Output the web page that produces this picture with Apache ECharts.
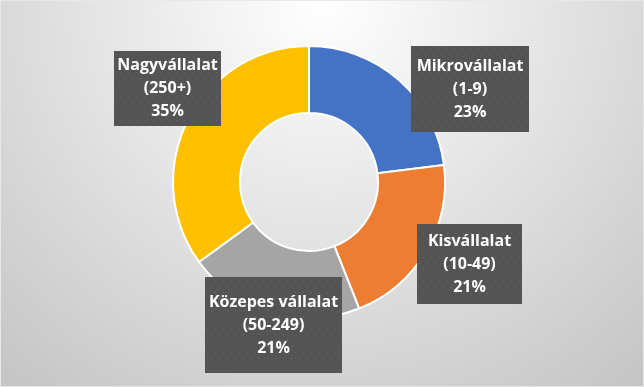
<!DOCTYPE html>
<html>
<head>
<meta charset="utf-8">
<script src="https://cdn.jsdelivr.net/npm/echarts@6.0.0/dist/echarts.min.js"></script>
<style>
html,body{margin:0;padding:0;background:#fff;}
#chart{width:644px;height:387px;}
</style>
</head>
<body>
<div id="chart"></div>
<script>
// ---- data ----
const categories = ['Mikrovállalat', 'Kisvállalat', 'Közepes vállalat', 'Nagyvállalat'];
const sizeBands  = ['(1-9)', '(10-49)', '(50-249)', '(250+)'];
const shares     = [23, 21, 21, 35];

// ---- styling ----
const sliceColors = ['#4472C4', '#ED7D31', '#A5A5A5', '#FFC000'];
// label boxes: centre x, centre y, width, height (px)
const labelBoxes = [
  [470, 89, 118, 86],
  [469.5, 264, 105, 80],
  [273.5, 325, 137, 96],
  [167.5, 88.5, 107, 75]
];
const LINE_H = 23;

function dottedCanvas(w, h) {
  const c = document.createElement('canvas');
  c.width = Math.round(w); c.height = Math.round(h);
  const g = c.getContext('2d');
  g.fillStyle = '#545454';
  g.fillRect(0, 0, c.width, c.height);
  g.fillStyle = '#6c6c6c';
  let row = 0;
  for (let y = 3; y < c.height; y += 6, row++) {
    for (let x = (row % 2 ? 6 : 2); x < c.width; x += 8) {
      g.fillRect(x, y, 1, 1);
    }
  }
  return c;
}

const seriesData = categories.map((name, i) => {
  const b = labelBoxes[i];
  const padV = Math.max(0, (b[3] - 3 * LINE_H) / 2);
  return {
    name: name,
    value: shares[i],
    itemStyle: { color: sliceColors[i] },
    label: {
      width: b[2],
      padding: [padV + 1, 0, padV - 1, 0],
      backgroundColor: { image: dottedCanvas(b[2], b[3]) }
    }
  };
});

const chart = echarts.init(document.getElementById('chart'), null, { renderer: 'canvas' });
chart.setOption({
  animation: false,
  backgroundColor: {
    type: 'radial', x: 0.5, y: 0, r: 1.3,
    colorStops: [
      { offset: 0, color: '#ffffff' },
      { offset: 1, color: '#c4c4c4' }
    ]
  },
  graphic: [{
    type: 'rect', silent: true,
    shape: { x: 0.5, y: 0.5, width: 643, height: 386 },
    style: { fill: null, stroke: '#e8e8e8', lineWidth: 1 }
  }],
  series: [{
    type: 'pie',
    center: [309, 182],
    radius: [69, 136],
    startAngle: 90,
    clockwise: true,
    silent: true,
    itemStyle: { borderColor: '#ffffff', borderWidth: 2 },
    label: {
      show: true,
      position: 'inside',
      overflow: 'none',
      color: '#ffffff',
      fontFamily: 'Open Sans',
      fontWeight: 'bold',
      fontSize: 16,
      lineHeight: LINE_H,
      align: 'center',
      formatter: p => p.name + '\n' + sizeBands[p.dataIndex] + '\n' + Math.round(p.percent) + '%'
    },
    labelLine: { show: false },
    labelLayout: function (params) {
      const b = labelBoxes[params.dataIndex];
      return { x: b[0], y: b[1], align: 'center', verticalAlign: 'middle' };
    },
    emphasis: { disabled: true },
    data: seriesData
  }]
});
</script>
</body>
</html>
